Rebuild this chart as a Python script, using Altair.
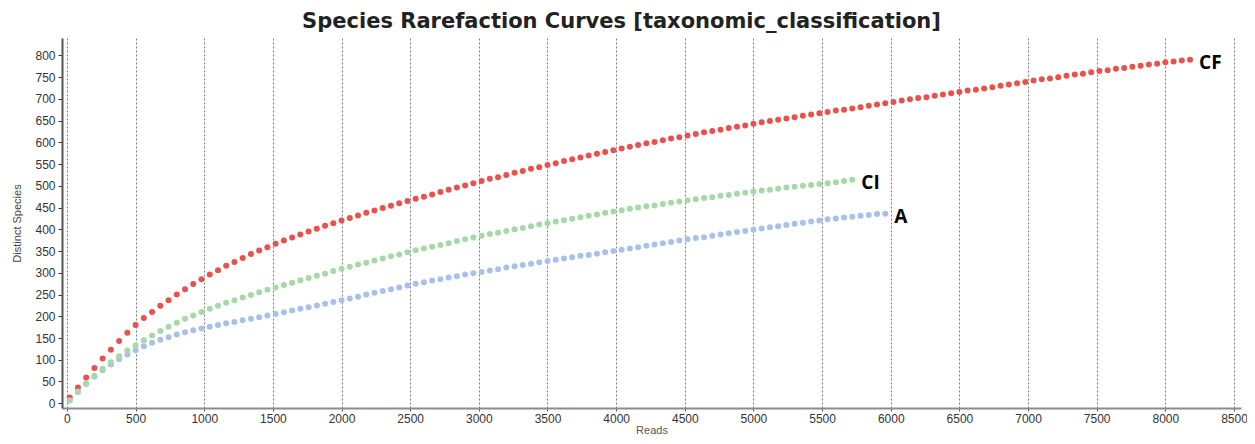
import altair as alt
import pandas as pd

READS = [20, 80, 140, 200, 260, 320, 380, 440, 500, 560, 620, 680, 740, 800, 860, 920, 980,
         1040, 1100, 1160, 1220, 1280, 1340, 1400, 1460, 1520, 1580, 1640, 1700, 1760, 1820,
         1880, 1940, 2000, 2060, 2120, 2180, 2240, 2300, 2360, 2420, 2480, 2540, 2600, 2660,
         2720, 2780, 2840, 2900, 2960, 3020, 3080, 3140, 3200, 3260, 3320, 3380, 3440, 3500,
         3560, 3620, 3680, 3740, 3800, 3860, 3920, 3980, 4040, 4100, 4160, 4220, 4280, 4340,
         4400, 4460, 4520, 4580, 4640, 4700, 4760, 4820, 4880, 4940, 5000, 5060, 5120, 5180,
         5240, 5300, 5360, 5420, 5480, 5540, 5600, 5660, 5720, 5780, 5840, 5900, 5960, 6020,
         6080, 6140, 6200, 6260, 6320, 6380, 6440, 6500, 6560, 6620, 6680, 6740, 6800, 6860,
         6920, 6980, 7040, 7100, 7160, 7220, 7280, 7340, 7400, 7460, 7520, 7580, 7640, 7700,
         7760, 7820, 7880, 7940, 8000, 8060, 8120, 8180]

CF = [13, 36, 59, 81, 103, 123, 143, 162, 180, 196,
      210, 224, 237, 250, 262, 274, 285, 296, 306, 316,
      325, 334, 343, 351, 359, 367, 374, 381, 388, 395,
      401, 408, 414, 420, 426, 432, 438, 443, 449, 454,
      460, 465, 470, 475, 480, 486, 491, 496, 501, 506,
      511, 516, 520, 525, 530, 534, 539, 543, 548, 552,
      557, 561, 565, 570, 574, 578, 582, 586, 590, 594,
      598, 601, 605, 609, 612, 616, 619, 623, 626, 629,
      633, 636, 639, 643, 646, 649, 652, 655, 658, 661,
      664, 667, 670, 673, 675, 678, 681, 684, 687, 690,
      693, 696, 699, 702, 704, 707, 710, 713, 716, 719,
      721, 724, 727, 730, 733, 736, 739, 742, 745, 747,
      750, 753, 756, 758, 761, 764, 766, 769, 771, 774,
      776, 779, 781, 784, 786, 788, 790]

CI = [7, 27, 46, 63, 79, 94, 108, 121, 133, 145,
      156, 166, 176, 185, 194, 202, 210, 217, 224, 231,
      237, 243, 249, 255, 261, 266, 272, 277, 283, 288,
      293, 298, 304, 309, 314, 319, 323, 328, 333, 338,
      342, 347, 352, 356, 360, 364, 368, 373, 377, 381,
      385, 389, 392, 396, 400, 403, 407, 411, 414, 418,
      421, 424, 428, 431, 434, 438, 441, 444, 447, 450,
      453, 455, 458, 461, 464, 467, 469, 472, 474, 477,
      479, 482, 484, 487, 489, 491, 493, 496, 498, 500,
      502, 504, 506, 508, 511, 514]

A = [6, 26, 44, 61, 76, 89, 101, 112, 122, 131,
     139, 146, 152, 158, 163, 168, 172, 176, 180, 184,
     187, 191, 194, 198, 202, 205, 209, 213, 217, 221,
     225, 229, 233, 237, 241, 245, 250, 254, 258, 262,
     266, 271, 275, 278, 282, 285, 289, 292, 296, 299,
     302, 305, 308, 312, 315, 318, 321, 324, 327, 330,
     333, 336, 339, 341, 344, 347, 350, 353, 356, 359,
     362, 365, 368, 371, 374, 377, 380, 382, 385, 388,
     391, 394, 396, 399, 402, 405, 407, 410, 413, 415,
     418, 420, 423, 425, 427, 429, 431, 433, 435, 436]

SERIES = ["CI", "A", "CF"]
VALUES = {"CF": CF, "CI": CI, "A": A}
COLORS = ["#a6d8a8", "#a9c1ea", "#e9514c"]
X_TICKS = [0, 500, 1000, 1500, 2000, 2500, 3000, 3500, 4000, 4500, 5000, 5500, 6000,
           6500, 7000, 7500, 8000, 8500]
Y_TICKS = [0, 50, 100, 150, 200, 250, 300, 350, 400, 450, 500, 550, 600, 650, 700, 750, 800]

rows = []
for s in SERIES:
    vals = VALUES[s]
    for r, v in zip(READS[:len(vals)], vals):
        rows.append({"series": s, "reads": r, "species": v})
df = pd.DataFrame(rows)

labels = pd.DataFrame([
    {"series": s, "reads": READS[len(VALUES[s]) - 1], "species": VALUES[s][-1]}
    for s in SERIES
])

xscale = alt.Scale(domain=[-36, 8551], nice=False, zero=False)
yscale = alt.Scale(domain=[-11, 840], nice=False, zero=False)
cscale = alt.Scale(domain=SERIES, range=COLORS)

x_axis = alt.Axis(values=X_TICKS, format="d", title="Reads", grid=True, gridDash=[2, 2],
                  gridColor="#7a7a7a", gridWidth=1, domainColor="#8c8c8c", domainWidth=2,
                  tickColor="#555", tickSize=3, labelPadding=2, labelFontSize=12,
                  labelColor="#333", labelFont="Liberation Sans", titleFont="Liberation Sans",
                  titleFontSize=11, titleFontWeight="normal", titleColor="#555", titlePadding=0,
                  labelFlush=False, labelOverlap=False)
y_axis = alt.Axis(values=Y_TICKS, tickCount=17, title="Distinct Species", grid=False,
                  domainColor="#555", domainWidth=2, tickColor="#333", tickSize=4,
                  labelPadding=3, labelFontSize=12, labelColor="#333", labelOverlap=False,
                  labelFont="Liberation Sans", titleFont="Liberation Sans", titleFontSize=11,
                  titleFontWeight="normal", titleColor="#444", titlePadding=12)

points = alt.Chart(df).mark_circle(size=36, opacity=1).encode(
    x=alt.X("reads:Q", scale=xscale, axis=x_axis),
    y=alt.Y("species:Q", scale=yscale, axis=y_axis),
    color=alt.Color("series:N", scale=cscale, legend=None),
    order=alt.Order("series:N"),
)

text = alt.Chart(labels).mark_text(align="left", baseline="middle", dx=9, dy=3,
                                   font="Open Sans", fontSize=19, fontWeight="bold",
                                   color="black").encode(
    x=alt.X("reads:Q", scale=xscale, axis=x_axis),
    y=alt.Y("species:Q", scale=yscale, axis=y_axis),
    text="series:N",
)

chart = alt.layer(points, text).properties(
    width=1179, height=370,
    autosize=alt.AutoSizeParams(type="none"),
    padding={"left": 54, "top": 30, "right": 6, "bottom": 28},
    title=alt.TitleParams("Species Rarefaction Curves [taxonomic_classification]",
                          font="DejaVu Sans", fontSize=21, fontWeight="bold",
                          color="#222", anchor="middle", dx=-30, offset=6),
).configure_view(stroke=None)

chart.save("out.html", embed_options={"renderer": "svg", "actions": False})
